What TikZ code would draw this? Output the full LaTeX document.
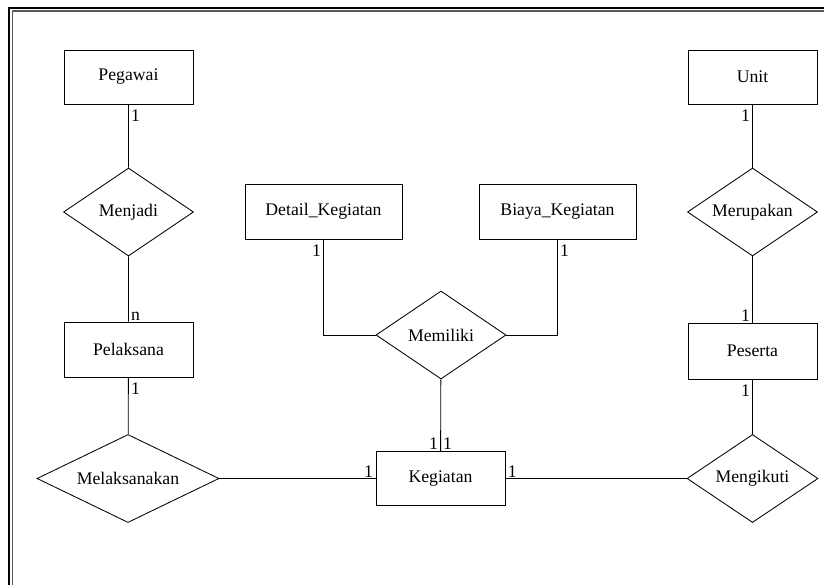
\documentclass[tikz,border=0pt]{standalone}
\usepackage{fontspec}
\setmainfont{Liberation Serif}
\usetikzlibrary{shapes.geometric}
\begin{document}
\begin{tikzpicture}[x=0.025cm, y=-0.025cm, font=\fontsize{12.6}{15}\selectfont,
  line width=0.6pt,
  entity/.style={draw, minimum width=3.225cm, minimum height=1.35cm, inner sep=0pt},
  rel/.style={draw, diamond, aspect=1.5, inner sep=0pt, minimum width=3.25cm, minimum height=2.2cm},
  card/.style={inner xsep=1.5pt, inner ysep=0.5pt, text height=1.15em, text depth=0pt}]
  \useasboundingbox (0,0) rectangle (824,585);
  % bingkai
  \draw[line width=2pt] (9,585) -- (9,8) -- (824,8);
  \draw[gray!70!black, line width=0.8pt] (12.5,585) -- (12.5,11) -- (824,11);
  % entitas
  \node[entity] (pegawai) at (128.5,77) {Pegawai};
  \node[entity] (unit) at (752.5,77) {Unit};
  \node[entity, minimum width=3.925cm, minimum height=1.375cm] (detail) at (323.5,211.5) {Detail\_Kegiatan};
  \node[entity, minimum width=3.925cm, minimum height=1.375cm] (biaya) at (557.5,211.5) {Biaya\_Kegiatan};
  \node[entity, minimum height=1.375cm] (pelaksana) at (128.5,349.5) {Pelaksana};
  \node[entity, minimum height=1.4cm] (peserta) at (752.5,351) {Peserta};
  \node[entity] (kegiatan) at (440.5,478.5) {Kegiatan};
  % relasi
  \node[rel] (menjadi) at (128.5,212) {Menjadi};
  \node[rel] (merupakan) at (752.5,212) {Merupakan};
  \node[rel] (memiliki) at (441,335) {Memiliki};
  \node[rel, minimum width=4.55cm] (melaksanakan) at (128,478.5) {Melaksanakan};
  \node[rel, minimum width=3.275cm] (mengikuti) at (752.5,478.5) {Mengikuti};
  % garis
  \draw (pegawai) -- (menjadi) -- (pelaksana) -- (melaksanakan);
  \draw (melaksanakan.east) -- (kegiatan.west);
  \draw (unit) -- (merupakan) -- (peserta) -- (mengikuti);
  \draw (mengikuti.west) -- (kegiatan.east);
  \draw (memiliki) -- (kegiatan);
  \draw (detail.south) |- (memiliki.west);
  \draw (biaya.south) |- (memiliki.east);
  % kardinalitas
  \node[card, below right] (k1) at (pegawai.south) {1};
  \node[card, above right] (k2) at (pelaksana.north) {n};
  \node[card, below right] (k3) at (pelaksana.south) {1};
  \node[card, below left] (k4) at (unit.south) {1};
  \node[card, above left] (k5) at (peserta.north) {1};
  \node[card, below left] (k6) at (peserta.south) {1};
  \node[card, below left] (k7) at (detail.south) {1};
  \node[card, below right] (k8) at (biaya.south) {1};
  \node[card, above left] (k9) at (kegiatan.north) {1};
  \node[card, above right] (k10) at (kegiatan.north) {1};
  \node[card, above left] (k11) at (kegiatan.west) {1};
  \node[card, above right] (k12) at (kegiatan.east) {1};
\end{tikzpicture}
\end{document}
